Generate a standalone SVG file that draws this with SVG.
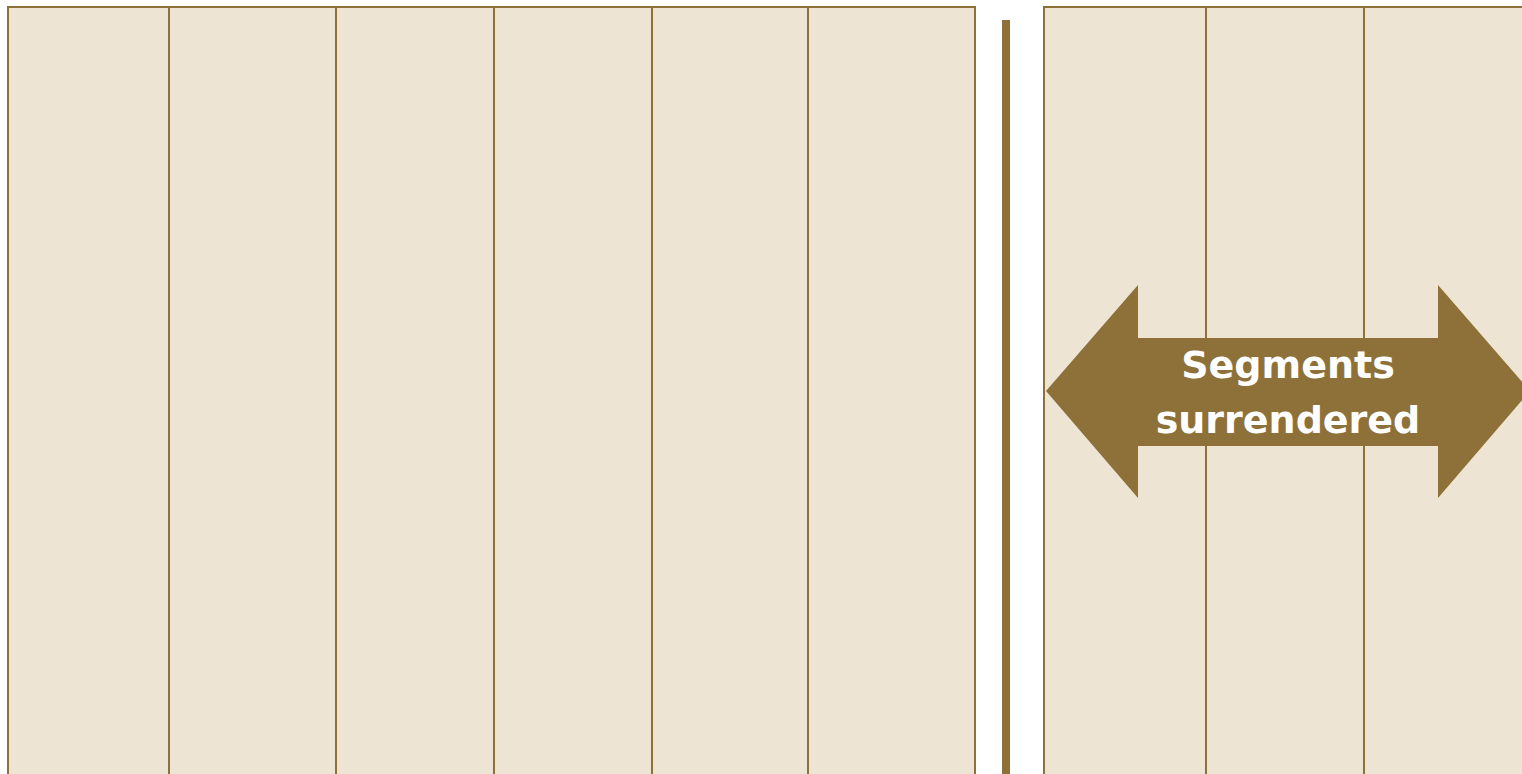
<svg xmlns="http://www.w3.org/2000/svg" width="1522" height="774" viewBox="0 0 1522 774">
  <style>
    .cell { fill: #EDE4D3; stroke: #8E7139; stroke-width: 2; }
    .arrow { fill: #8E7139; }
    .lbl { font-family: "DejaVu Sans", "Liberation Sans", sans-serif; font-weight: bold; font-size: 38px; fill: #FFFFFF; text-anchor: middle; }
  </style>
  <rect x="0" y="0" width="1522" height="774" fill="#FFFFFF"/>
  <g id="cell-1"><rect class="cell" x="8" y="7" width="161" height="790"/></g>
  <g id="cell-2"><rect class="cell" x="169" y="7" width="167" height="790"/></g>
  <g id="cell-3"><rect class="cell" x="336" y="7" width="158" height="790"/></g>
  <g id="cell-4"><rect class="cell" x="494" y="7" width="158" height="790"/></g>
  <g id="cell-5"><rect class="cell" x="652" y="7" width="156" height="790"/></g>
  <g id="cell-6"><rect class="cell" x="808" y="7" width="167" height="790"/></g>
  <g id="divider"><rect x="1002" y="20" width="8" height="760" fill="#8E7139"/></g>
  <g id="cell-7"><rect class="cell" x="1044" y="7" width="162" height="790"/></g>
  <g id="cell-8"><rect class="cell" x="1206" y="7" width="158" height="790"/></g>
  <g id="cell-9"><rect class="cell" x="1364" y="7" width="170" height="790"/></g>
  <g id="arrow-node">
    <polygon class="arrow" points="1046,391 1138,285 1138,338 1438,338 1438,285 1530,391 1438,498 1438,446 1138,446 1138,498"/>
    <text class="lbl" x="1288" y="378">Segments</text>
    <text class="lbl" x="1288" y="433">surrendered</text>
  </g>
</svg>
